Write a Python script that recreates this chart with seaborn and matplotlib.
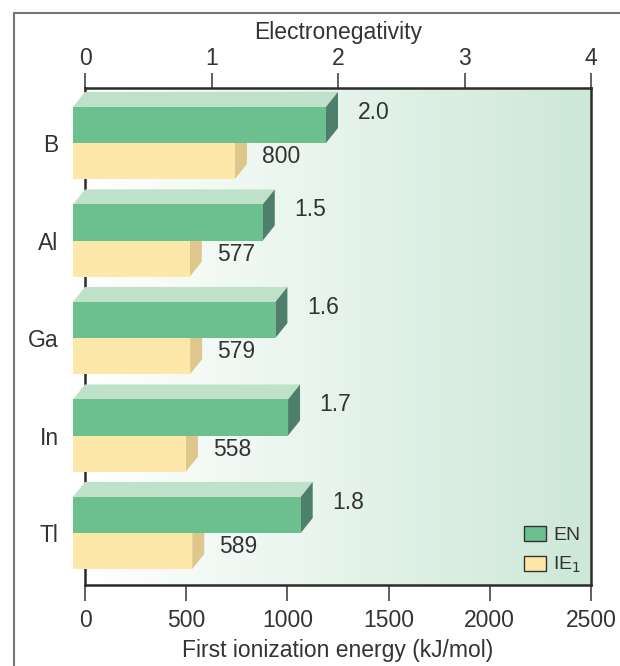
import numpy as np
import pandas as pd
import matplotlib
matplotlib.use("Agg")
import matplotlib.pyplot as plt
import seaborn as sns
from matplotlib.patches import Polygon, Patch, Rectangle
from matplotlib.transforms import ScaledTranslation

# --- data ---
elements = ["B", "Al", "Ga", "In", "Tl"]
en_values = [2.0, 1.5, 1.6, 1.7, 1.8]
ie_values = [800, 577, 579, 558, 589]
en_labels = ["2.0", "1.5", "1.6", "1.7", "1.8"]
ie_labels = ["800", "577", "579", "558", "589"]
en_ticks = [0, 1, 2, 3, 4]
ie_ticks = [0, 500, 1000, 1500, 2000, 2500]

EN_PER_IE = 625.0  # 4 EN units span the same width as 2500 kJ/mol

df = pd.DataFrame({
    "element": elements * 2,
    "series": ["EN"] * len(elements) + ["IE"] * len(elements),
    "value": [v * EN_PER_IE for v in en_values] + ie_values,
})

# --- style ---
sns.set_theme(style="white")
plt.rcParams["font.family"] = ["Liberation Sans", "DejaVu Sans"]
fs = 16.5
txt = "#333333"
green_front, green_top, green_side = "#6cc08e", "#bfe0c9", "#4e7e6c"
yellow_front, yellow_side = "#fde8aa", "#dfc68c"

fig = plt.figure(figsize=(6.2, 6.66), dpi=100)
ax = fig.add_axes([85 / 620, 1 - 585 / 666, 506 / 620, 497 / 666])

sns.barplot(data=df, y="element", x="value", hue="series", orient="h",
            palette=[green_front, yellow_front], saturation=1, width=0.74,
            edgecolor="none", linewidth=0, legend=False, ax=ax, zorder=3)

ax.set_xlim(0, 2500)
ax.set_ylim(4.533, -0.564)

# background gradient white -> pale green
t = np.linspace(0, 1, 256)
c0 = np.array([1.0, 1.0, 1.0])
c1 = np.array([205, 232, 215]) / 255
grad = (c0[None, :] * (1 - t[:, None]) + c1[None, :] * t[:, None])[None, :, :]
ax.imshow(grad, extent=[0, 1, 0, 1], transform=ax.transAxes, aspect="auto", zorder=0)

# spines and ticks
for s in ["top", "bottom", "right", "left"]:
    ax.spines[s].set_visible(True)
    ax.spines[s].set_color("#2b2b2b")
    ax.spines[s].set_linewidth(1.8)
    ax.spines[s].set_zorder(2)

ax.set_xticks(ie_ticks)
ax.set_xticklabels([str(v) for v in ie_ticks])
ax.tick_params(axis="x", direction="out", length=11.5, width=1.3, color="#555555",
               labelsize=fs, labelcolor=txt, pad=6, bottom=True)
ax.tick_params(axis="y", length=0, labelsize=fs, labelcolor=txt, pad=19)
ax.set_xlabel("First ionization energy (kJ/mol)", fontsize=fs, color=txt, labelpad=5)
ax.set_ylabel("")

top = ax.secondary_xaxis("top", functions=(lambda x: x / EN_PER_IE, lambda x: x * EN_PER_IE))
top.set_xticks(en_ticks)
top.set_xticklabels([str(v) for v in en_ticks])
top.tick_params(direction="out", length=11, width=1.3, color="#555555",
                labelsize=fs, labelcolor=txt, pad=2)
top.set_xlabel("Electronegativity", fontsize=fs, color=txt, labelpad=6)
top.spines["top"].set_visible(False)

# --- 3D faces built from the seaborn bars ---
shift = -12  # px, front face shifted left
dx, dy = 12, 15  # depth offset in px
fig.canvas.draw()
tf = ax.transData

def faces(container, top_col, side_col, z):
    for p in container.patches:
        p.set_transform(tf + ScaledTranslation(shift / 100, 0, fig.dpi_scale_trans))
        x0, y0 = p.get_x(), p.get_y()
        x1, y1 = x0 + p.get_width(), y0 + p.get_height()
        (ax0, ay_top), (ax1, ay_bot) = tf.transform([(x0, y0), (x1, y1)])
        ax0 += shift
        ax1 += shift
        if top_col is not None:
            ax.add_patch(Polygon([(ax0, ay_top), (ax1, ay_top), (ax1 + dx, ay_top + dy),
                                  (ax0 + dx, ay_top + dy)], closed=True, facecolor=top_col,
                                 edgecolor="none", transform=None, zorder=z, clip_on=False))
        ax.add_patch(Polygon([(ax1, ay_top), (ax1, ay_bot), (ax1 + dx, ay_bot + dy),
                              (ax1 + dx, ay_top + dy)], closed=True, facecolor=side_col,
                             edgecolor="none", transform=None, zorder=z, clip_on=False))
        p.set_zorder(z + 0.1)
        p.set_clip_on(False)

en_bars, ie_bars = ax.containers[0], ax.containers[1]
faces(ie_bars, None, yellow_side, 3)
faces(en_bars, green_top, green_side, 4)

# value labels
for p, lab in zip(en_bars.patches, en_labels):
    ax.annotate(lab, (p.get_x() + p.get_width(), p.get_y() + p.get_height() / 2),
                xytext=(14, 9), textcoords="offset points", fontsize=fs, color=txt,
                ha="left", va="center", zorder=6)
for p, lab in zip(ie_bars.patches, ie_labels):
    ax.annotate(lab, (p.get_x() + p.get_width(), p.get_y() + p.get_height() / 2),
                xytext=(11, 3), textcoords="offset points", fontsize=fs, color=txt,
                ha="left", va="center", zorder=6)

# legend
handles = [Patch(facecolor=green_front, edgecolor="#333333", linewidth=1.0, label="EN"),
           Patch(facecolor=yellow_front, edgecolor="#333333", linewidth=1.0, label="IE$_1$")]
leg = ax.legend(handles=handles, loc="lower right", frameon=False, fontsize=14,
                handlelength=1.1, handleheight=0.8, handletextpad=0.4, labelspacing=0.55,
                borderaxespad=0.1, labelcolor=txt)
leg.set_zorder(7)

# outer frame
fig.patches.append(Rectangle((14 / 620, -0.1), 1.2, 1 - 13 / 666 + 0.1,
                             transform=fig.transFigure, fill=False,
                             edgecolor="#777777", linewidth=1.5, zorder=0))

fig.savefig("out.png", dpi=100)
